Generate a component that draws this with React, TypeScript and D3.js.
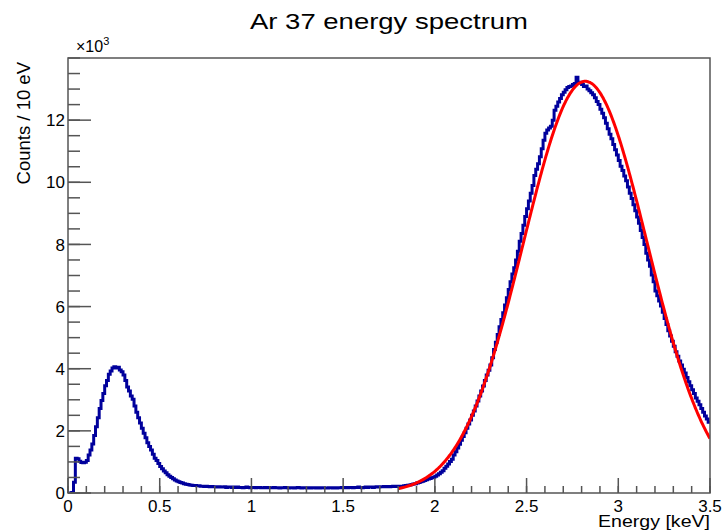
import React from "react";
import * as d3 from "d3";

const W = 723;
const H = 531;
const margin = { top: 58, right: 13, bottom: 38, left: 68 };

// histogram: 10 eV bins from 0 to 3.5 keV, counts in units of 10^3
const binWidth = 0.01;

// bins 0 - 70 (0 - 0.71 keV)
const lowPeak = [
  0, 0, 0.02, 0.35, 1.12, 1.1, 1.02, 0.98, 0.97, 0.99,
  1.05, 1.22, 1.38, 1.58, 1.85, 2.13, 2.42, 2.72, 2.98, 3.2,
  3.45, 3.62, 3.82, 3.93, 4.02, 4.06, 4.02, 4.05, 3.96, 3.9,
  3.8, 3.62, 3.41, 3.28, 3.12, 3.02, 2.8, 2.6, 2.42, 2.25,
  2.08, 1.92, 1.78, 1.62, 1.5, 1.38, 1.25, 1.12, 1.05, 0.95,
  0.85, 0.78, 0.71, 0.65, 0.59, 0.54, 0.5, 0.46, 0.42, 0.39,
  0.36, 0.34, 0.32, 0.3, 0.28, 0.27, 0.26, 0.25, 0.24, 0.24,
  0.23,
];

// bins 71 - 179
const flatRegion = [
  0.23, 0.22, 0.22, 0.21, 0.22, 0.21, 0.2, 0.21, 0.2, 0.2,
  0.19, 0.2, 0.19, 0.19, 0.2, 0.18, 0.19, 0.19, 0.18, 0.19,
  0.18, 0.19, 0.18, 0.18, 0.17, 0.18, 0.19, 0.18, 0.17, 0.18,
  0.18, 0.17, 0.18, 0.18, 0.17, 0.17, 0.18, 0.17, 0.18, 0.17,
  0.17, 0.18, 0.17, 0.17, 0.16, 0.17, 0.17, 0.18, 0.17, 0.16,
  0.17, 0.17, 0.16, 0.17, 0.18, 0.17, 0.16, 0.17, 0.17, 0.16,
  0.17, 0.16, 0.17, 0.17, 0.16, 0.17, 0.16, 0.17, 0.17, 0.16,
  0.16, 0.17, 0.17, 0.16, 0.17, 0.16, 0.17, 0.17, 0.18, 0.17,
  0.18, 0.17, 0.18, 0.18, 0.17, 0.18, 0.18, 0.19, 0.18, 0.17,
  0.18, 0.19, 0.18, 0.19, 0.19, 0.18, 0.19, 0.2, 0.19, 0.2,
  0.2, 0.21, 0.2, 0.21, 0.2, 0.21, 0.22, 0.21, 0.22,
];

// bins 180 - 277 (rising edge of the main peak)
const mainRise = [
  0.21, 0.22, 0.22, 0.23, 0.24, 0.25, 0.26, 0.27, 0.29, 0.3,
  0.32, 0.34, 0.36, 0.38, 0.4, 0.43, 0.45, 0.47, 0.49, 0.51,
  0.54, 0.58, 0.62, 0.67, 0.72, 0.8, 0.86, 0.93, 1.01, 1.09,
  1.22, 1.33, 1.45, 1.57, 1.7, 1.82, 1.94, 2.08, 2.22, 2.35,
  2.5, 2.64, 2.8, 2.96, 3.12, 3.28, 3.44, 3.62, 3.8, 3.95,
  4.12, 4.35, 4.62, 4.85, 5.1, 5.35, 5.58, 5.8, 6.05, 6.28,
  6.55, 6.8, 7.05, 7.25, 7.5, 7.78, 8.1, 8.35, 8.62, 8.9,
  9.15, 9.4, 9.65, 9.9, 10.22, 10.42, 10.6, 10.82, 11.08, 11.35,
  11.58, 11.68, 11.75, 11.8, 12.0, 12.32, 12.45, 12.58, 12.7, 12.82,
  12.9, 12.98, 13.05, 13.08, 13.1, 13.15, 13.18, 13.38,
];

// bins 278 - 349 (falling edge)
const mainFall = [
  13.2, 13.22, 13.15, 13.08, 13.1, 13.0, 12.95, 12.88, 12.82, 12.72,
  12.6, 12.5, 12.35, 12.22, 12.08, 11.9, 11.72, 11.55, 11.4, 11.22,
  11.05, 10.88, 10.7, 10.52, 10.38, 10.2, 10.05, 9.85, 9.65, 9.48,
  9.28, 9.08, 8.88, 8.68, 8.45, 8.22, 8.0, 7.72, 7.5, 7.3,
  7.02, 6.8, 6.5, 6.35, 6.18, 6.02, 5.82, 5.62, 5.42, 5.22,
  5.05, 4.88, 4.72, 4.55, 4.4, 4.25, 4.12, 3.98, 3.86, 3.72,
  3.58, 3.45, 3.32, 3.2, 3.06, 2.95, 2.84, 2.72, 2.6, 2.48,
  2.38, 2.28,
];

const counts = [...lowPeak, ...flatRegion, ...mainRise, ...mainFall];

// gaussian fit drawn in red
const fitAmp = 13.25;
const fitMean = 2.82;
const fitSigma = 0.338;
const fitRange = [1.8, 3.5];

const xMajor = [0, 0.5, 1, 1.5, 2, 2.5, 3, 3.5];
const yMajor = [0, 2, 4, 6, 8, 10, 12];

const font = "'Liberation Sans', Arial, Helvetica, sans-serif";
const axisColor = "#555";

export default function App() {
  const x = d3.scaleLinear().domain([0, 3.5]).range([margin.left, W - margin.right]);
  const y = d3.scaleLinear().domain([0, 14]).range([H - margin.bottom, margin.top]);

  const pts: [number, number][] = counts.map((c, i) => [i * binWidth, c]);
  pts.push([counts.length * binWidth, counts[counts.length - 1]]);
  const histPath = d3
    .line<[number, number]>()
    .x((d) => x(d[0]))
    .y((d) => y(d[1]))
    .curve(d3.curveStepAfter)(pts);

  const fitPts = d3.range(fitRange[0], fitRange[1] + 1e-9, 0.005).map((e) => [
    e,
    fitAmp * Math.exp(-((e - fitMean) ** 2) / (2 * fitSigma * fitSigma)),
  ]) as [number, number][];
  const fitPath = d3
    .line<[number, number]>()
    .x((d) => x(d[0]))
    .y((d) => y(d[1]))
    .curve(d3.curveMonotoneX)(fitPts);

  const xMinor = d3.range(0, 36).map((i) => i / 10);
  const yMinor = d3.range(0, 29).map((i) => i / 2);

  const x0 = margin.left;
  const x1 = W - margin.right;
  const y0 = H - margin.bottom;
  const y1 = margin.top;

  return (
    <svg
      width={W}
      height={H}
      style={{ position: "absolute", left: 0, top: 0, background: "#fff" }}
      fontFamily={font}
    >
      <defs>
        <clipPath id="frame">
          <rect x={x0} y={y1 - 2} width={x1 - x0} height={y0 - y1 + 2} />
        </clipPath>
      </defs>

      {/* title */}
      <text x={389} y={29} fontSize={22} textAnchor="middle" textLength={278} lengthAdjust="spacingAndGlyphs">
        Ar 37 energy spectrum
      </text>

      {/* data */}
      <g clipPath="url(#frame)">
        <path d={histPath || ""} fill="none" stroke="#00009c" strokeWidth={3} />
        <path d={fitPath || ""} fill="none" stroke="#ff0000" strokeWidth={3} />
      </g>

      {/* frame */}
      <rect x={x0} y={y1} width={x1 - x0} height={y0 - y1} fill="none" stroke={axisColor} strokeWidth={1.5} />

      {/* x ticks */}
      {xMinor.map((v) => (
        <line key={"xm" + v} x1={x(v)} x2={x(v)} y1={y0} y2={y0 - 7} stroke={axisColor} strokeWidth={1.5} />
      ))}
      {xMajor.map((v) => (
        <g key={"xM" + v}>
          <line x1={x(v)} x2={x(v)} y1={y0} y2={y0 - 15} stroke={axisColor} strokeWidth={1.5} />
          <text x={x(v)} y={y0 + 19} fontSize={17} textAnchor="middle">
            {d3.format("~g")(v)}
          </text>
        </g>
      ))}

      {/* y ticks */}
      {yMinor.map((v) => (
        <line key={"ym" + v} x1={x0} x2={x0 + 12} y1={y(v)} y2={y(v)} stroke={axisColor} strokeWidth={1.5} />
      ))}
      {yMajor.map((v) => (
        <g key={"yM" + v}>
          <line x1={x0} x2={x0 + 23} y1={y(v)} y2={y(v)} stroke={axisColor} strokeWidth={1.5} />
          <text x={x0 - 3} y={y(v)} dy="0.36em" fontSize={17} textAnchor="end">
            {v}
          </text>
        </g>
      ))}

      {/* exponent */}
      <text x={76} y={52} fontSize={16}>
        ×10
        <tspan dy={-7} fontSize={11}>
          3
        </tspan>
      </text>

      {/* axis titles */}
      <text x={710} y={527} fontSize={17} textAnchor="end" textLength={112} lengthAdjust="spacingAndGlyphs">
        Energy [keV]
      </text>
      <text transform="translate(30,62) rotate(-90)" fontSize={18.5} textAnchor="end">
        Counts / 10 eV
      </text>
    </svg>
  );
}
